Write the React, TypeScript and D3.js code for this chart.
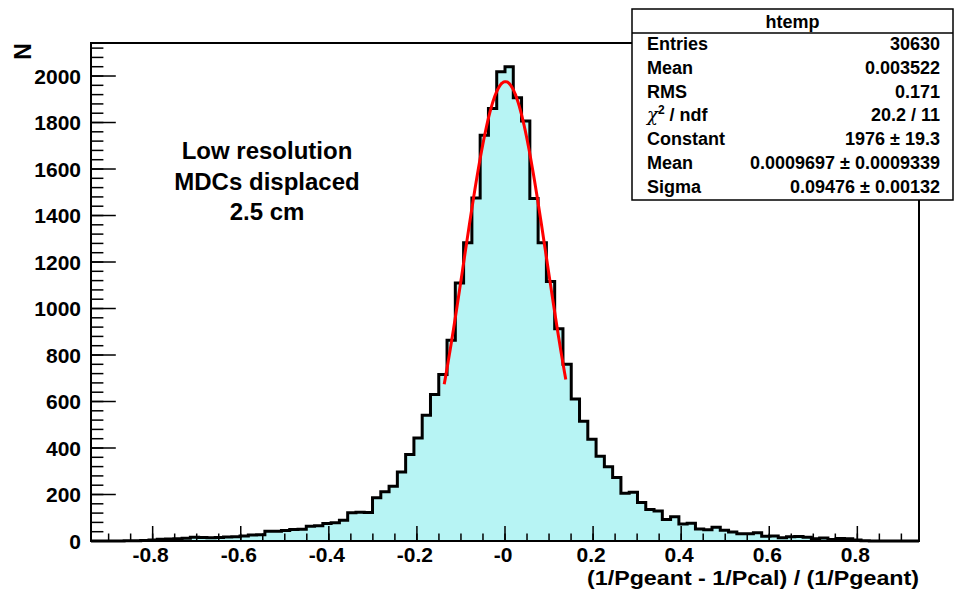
import React from "react";
import * as d3 from "d3";

// ---- data ----
const xMin = -0.94;
const xMax = 0.94;
const nBins = 100;
const counts: number[] = [
  0, 0, 0, 0, 1, 1, 2, 4, 7, 9,
  10, 12, 16, 15, 14, 15, 17, 18, 22, 26,
  27, 42, 42, 45, 49, 51, 63, 66, 75, 78,
  89, 122, 124, 123, 186, 212, 236, 297, 372, 443,
  541, 630, 716, 863, 1110, 1283, 1475, 1745, 1860, 2018,
  2040, 1907, 1806, 1473, 1283, 1116, 913, 760, 611, 515,
  438, 365, 319, 273, 205, 210, 166, 136, 129, 93,
  104, 73, 76, 52, 48, 59, 46, 39, 31, 31,
  36, 20, 21, 14, 18, 19, 16, 10, 13, 6,
  11, 10, 4, 1, 0, 0, 0, 0, 0, 0,
];
const yMax = 2142;
const fitConstant = 1976;
const fitMean = 0.0009697;
const fitSigma = 0.09476;
const fitRange: [number, number] = [-0.138, 0.138];

const xMajorTicks = [-0.8, -0.6, -0.4, -0.2, 0, 0.2, 0.4, 0.6, 0.8];
const xTickLabels = ["-0.8", "-0.6", "-0.4", "-0.2", "-0", "0.2", "0.4", "0.6", "0.8"];
const yMajorTicks = [0, 200, 400, 600, 800, 1000, 1200, 1400, 1600, 1800, 2000];

const statLabels = ["Entries", "Mean", "RMS", "CHI", "Constant", "Mean", "Sigma"];
const statValues = ["30630", "0.003522", "0.171", "20.2 / 11", "1976 ± 19.3", "0.0009697 ± 0.0009339", "0.09476 ± 0.00132"];
const noteLines = ["Low resolution", "MDCs displaced", "2.5 cm"];

// ---- layout ----
const W = 955, H = 595;
const L = 91, R = 919, T = 43, B = 541;
const FONT = "'Liberation Sans', Arial, Helvetica, sans-serif";

export default function App() {
  const x = d3.scaleLinear().domain([xMin, xMax]).range([L, R]);
  const y = d3.scaleLinear().domain([0, yMax]).range([B, T]);
  const bw = (xMax - xMin) / nBins;

  const pts: [number, number][] = [[xMin, 0]];
  counts.forEach((c, i) => pts.push([xMin + i * bw, c]));
  pts.push([xMax, counts[nBins - 1]]);
  pts.push([xMax, 0]);

  const line = d3.line<[number, number]>().x(d => x(d[0])).y(d => y(d[1])).curve(d3.curveStepAfter);
  const area = d3.area<[number, number]>().x(d => x(d[0])).y0(y(0)).y1(d => y(d[1])).curve(d3.curveStepAfter);

  const fitPts: [number, number][] = d3.range(0, 121).map(k => {
    const xv = fitRange[0] + (k / 120) * (fitRange[1] - fitRange[0]);
    return [xv, fitConstant * Math.exp(-0.5 * Math.pow((xv - fitMean) / fitSigma, 2))];
  });
  const fitLine = d3.line<[number, number]>().x(d => x(d[0])).y(d => y(d[1])).curve(d3.curveBasis);

  const xMinor = d3.range(-18, 19).map(k => k * 0.05).filter(v => v >= xMin && v <= xMax);
  const yMinor = d3.range(0, 54).map(k => k * 40).filter(v => v <= yMax);

  const boxL = 632, boxR = 953, boxT = 9, boxB = 200;
  const rowBase = (i: number) => 50 + i * 23.8;

  return (
    <svg width={W} height={H} style={{ position: "absolute", left: 0, top: 0, background: "#fff" }} fontFamily={FONT} fontWeight="bold">
      <rect x={0} y={0} width={W} height={H} fill="#fff" />
      <path d={area(pts) || ""} fill="#b7f4f4" />
      <path d={line(pts) || ""} fill="none" stroke="#000" strokeWidth={3} />
      <path d={fitLine(fitPts) || ""} fill="none" stroke="#ff0000" strokeWidth={3} />

      {/* x ticks */}
      {xMinor.map((v, i) => (
        <line key={"xm" + i} x1={x(v)} x2={x(v)} y1={B} y2={B - 7.5} stroke="#000" strokeWidth={1.5} />
      ))}
      {xMajorTicks.map((v, i) => (
        <line key={"xM" + i} x1={x(v)} x2={x(v)} y1={B} y2={B - 15} stroke="#000" strokeWidth={1.5} />
      ))}
      {/* y ticks */}
      {yMinor.map((v, i) => (
        <line key={"ym" + i} x1={L} x2={L + 12.4} y1={y(v)} y2={y(v)} stroke="#000" strokeWidth={1.5} />
      ))}
      {yMajorTicks.map((v, i) => (
        <line key={"yM" + i} x1={L} x2={L + 24.8} y1={y(v)} y2={y(v)} stroke="#000" strokeWidth={1.5} />
      ))}

      <rect x={L} y={T} width={R - L} height={B - T} fill="none" stroke="#000" strokeWidth={2} />

      {xMajorTicks.map((v, i) => (
        <text key={"xl" + i} x={x(v) - 2} y={562} textAnchor="middle" fontSize={21}>{xTickLabels[i]}</text>
      ))}
      {yMajorTicks.map((v, i) => (
        <text key={"yl" + i} x={81} y={y(v) + 7.5} textAnchor="end" fontSize={21}>{String(v)}</text>
      ))}

      <text x={919} y={585} textAnchor="end" fontSize={21} textLength={332} lengthAdjust="spacingAndGlyphs">(1/Pgeant - 1/Pcal) / (1/Pgeant)</text>
      <text transform={`translate(31,43) rotate(-90)`} textAnchor="end" fontSize={23}>N</text>

      {noteLines.map((t, i) => (
        <text key={"n" + i} x={267} y={159 + i * 30.5} textAnchor="middle" fontSize={24}>{t}</text>
      ))}

      {/* stats box */}
      <rect x={boxL} y={boxT} width={boxR - boxL} height={boxB - boxT} fill="#fff" stroke="#000" strokeWidth={1.5} />
      <line x1={boxL} x2={boxR} y1={33} y2={33} stroke="#000" strokeWidth={1.5} />
      <text x={(boxL + boxR) / 2} y={27.5} textAnchor="middle" fontSize={18}>htemp</text>
      {statLabels.map((lab, i) => (
        <text key={"sl" + i} x={647} y={rowBase(i)} fontSize={18}>
          {lab === "CHI" ? (
            <>
              <tspan fontWeight="normal" fontFamily="'DejaVu Serif', serif" fontStyle="italic">χ</tspan>
              <tspan fontSize={12} dy={-7}>2</tspan>
              <tspan dy={7}> / ndf</tspan>
            </>
          ) : lab}
        </text>
      ))}
      {statValues.map((v, i) => (
        <text key={"sv" + i} x={940} y={rowBase(i)} textAnchor="end" fontSize={18}>{v}</text>
      ))}
    </svg>
  );
}
